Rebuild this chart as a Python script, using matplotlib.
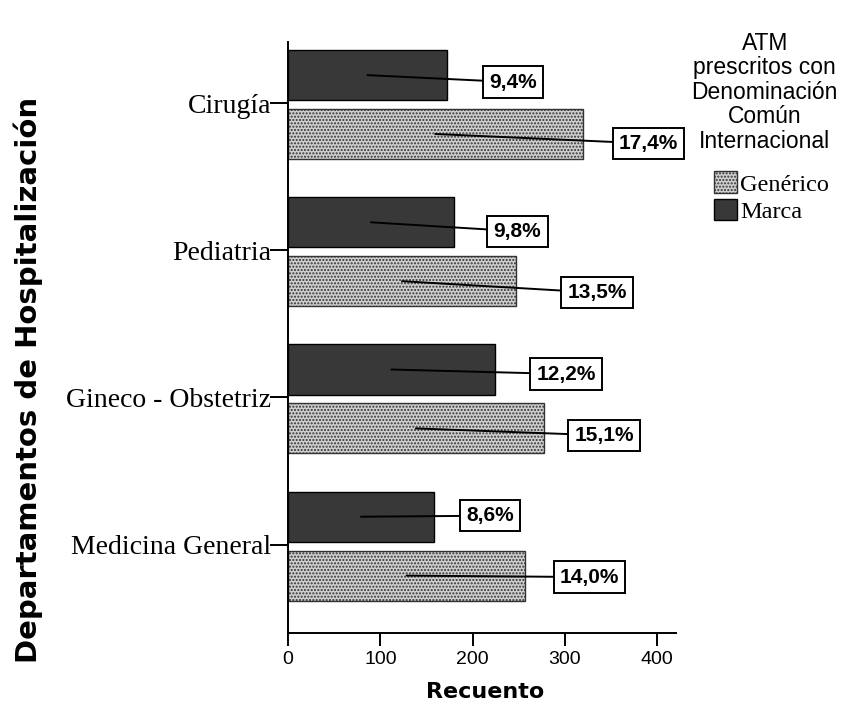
import numpy as np
import matplotlib.pyplot as plt
from matplotlib.patches import Patch

departamentos = ['Cirugía', 'Pediatria', 'Gineco - Obstetriz', 'Medicina General']
marca = [172, 180, 224, 158]
generico = [319, 247, 277, 257]
pct_marca = ['9,4%', '9,8%', '12,2%', '8,6%']
pct_generico = ['17,4%', '13,5%', '15,1%', '14,0%']

# where the percentage boxes sit, relative to the end of each bar
off_marca = [(46.3, 0.048), (42.8, 0.061), (45.3, 0.031), (35.3, -0.007)]
off_generico = [(39.3, 0.065), (55.8, 0.078), (33.3, 0.048), (37.3, 0.01)]

dark = '#383838'
light = '#cfcfcf'
plt.rcParams['hatch.color'] = '#1e1e1e'
plt.rcParams['hatch.linewidth'] = 1.0

fig = plt.figure(figsize=(8.45, 7.19), dpi=100)
ax = fig.add_axes([0.3408, 0.1196, 0.459, 0.822])

y = np.arange(len(departamentos))
h = 0.34
ax.barh(y - 0.19, marca, height=h, color=dark, edgecolor='black', linewidth=1)
ax.barh(y + 0.21, generico, height=h, color=light, edgecolor='#333333',
        linewidth=1, hatch='.....')

box = dict(boxstyle='square,pad=0.3', fc='white', ec='black', lw=1.4)
for i in range(len(departamentos)):
    for val, yy, txt, (dx, dy) in [(marca[i], y[i] - 0.19, pct_marca[i], off_marca[i]),
                                  (generico[i], y[i] + 0.21, pct_generico[i], off_generico[i])]:
        ax.annotate(txt, xy=(val / 2.0, yy), xytext=(val + dx, yy + dy),
                    ha='left', va='center', fontsize=15, fontweight='bold',
                    family='Liberation Sans', bbox=box,
                    arrowprops=dict(arrowstyle='-', color='black', lw=1.4,
                                    shrinkA=0, shrinkB=0))

ax.set_xlim(0, 420)
ax.set_ylim(3.6, -0.415)
ax.set_xticks([0, 100, 200, 300, 400])
ax.set_yticks(y)
ax.set_yticklabels(departamentos, family='Liberation Serif', fontsize=20)
ax.tick_params(axis='y', length=13, width=1.4, pad=-1)
ax.tick_params(axis='x', length=9, width=1.4, labelsize=14, pad=4)
for lab in ax.get_xticklabels():
    lab.set_family('Liberation Sans')
for s in ['top', 'right']:
    ax.spines[s].set_visible(False)
for s in ['left', 'bottom']:
    ax.spines[s].set_linewidth(1.4)

fig.text(0.574, 0.0375, 'Recuento', ha='center', va='center',
         fontsize=16, fontweight='bold')
fig.text(0.034, 0.471, 'Departamentos de Hospitalización', rotation=90,
         ha='center', va='center', fontsize=21, fontweight='bold')

handles = [Patch(facecolor=light, edgecolor='#333333', hatch='.....', label='Genérico'),
           Patch(facecolor=dark, edgecolor='black', label='Marca')]
fig.text(0.905, 0.956, 'ATM\nprescritos con\nDenominación\nComún\nInternacional',
         ha='center', va='top', fontsize=16.5, family='Liberation Sans', linespacing=1.09)
leg = fig.legend(handles=handles, loc='upper left', bbox_to_anchor=(0.833, 0.775),
                 frameon=False, prop={'family': 'Liberation Serif', 'size': 17.5},
                 handlelength=0.95, handleheight=1.0, handletextpad=0.15,
                 labelspacing=0.12, borderaxespad=0)

fig.savefig('out.png', dpi=100)
